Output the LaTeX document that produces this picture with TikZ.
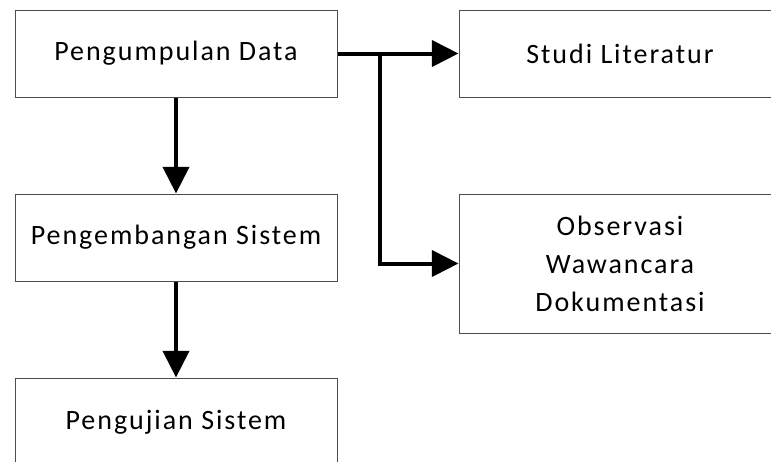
\documentclass[tikz,border=0pt]{standalone}
\usepackage{fontspec}
\setmainfont[LetterSpace=7]{Carlito}
\usetikzlibrary{arrows.meta}
\begin{document}
\begin{tikzpicture}[x=0.75pt,y=-0.75pt,
  box/.style={draw=black!70, line width=0.75pt, minimum width=241.5pt, minimum height=65.25pt, inner sep=0pt, align=center, font=\fontsize{21}{28.5}\selectfont},
  conn/.style={line width=3pt, -{Triangle[length=20pt,width=19.5pt]}}]
\useasboundingbox (0,0) rectangle (771,461);
\clip (0,0) rectangle (771,461);
\node[box] (pd) at (176,53.5) {Pengumpulan Data};
\node[box] (ps) at (176,237.5) {Pengembangan Sistem};
\node[box, minimum height=66pt] (uj) at (176,422) {Pengujian Sistem};
\node[box] (sl) at (620,53.5) {Studi Literatur};
\node[box, minimum height=104.25pt] (ob) at (620,263.5) {Observasi\\Wawancara\\Dokumentasi};
\coordinate (j) at (380,53.5);
\draw[conn] (pd) -- (ps);
\draw[conn] (ps) -- (uj);
\draw[conn] (pd.east) -- (sl.west);
\draw[conn] (j) |- (ob.west);
\end{tikzpicture}
\end{document}
